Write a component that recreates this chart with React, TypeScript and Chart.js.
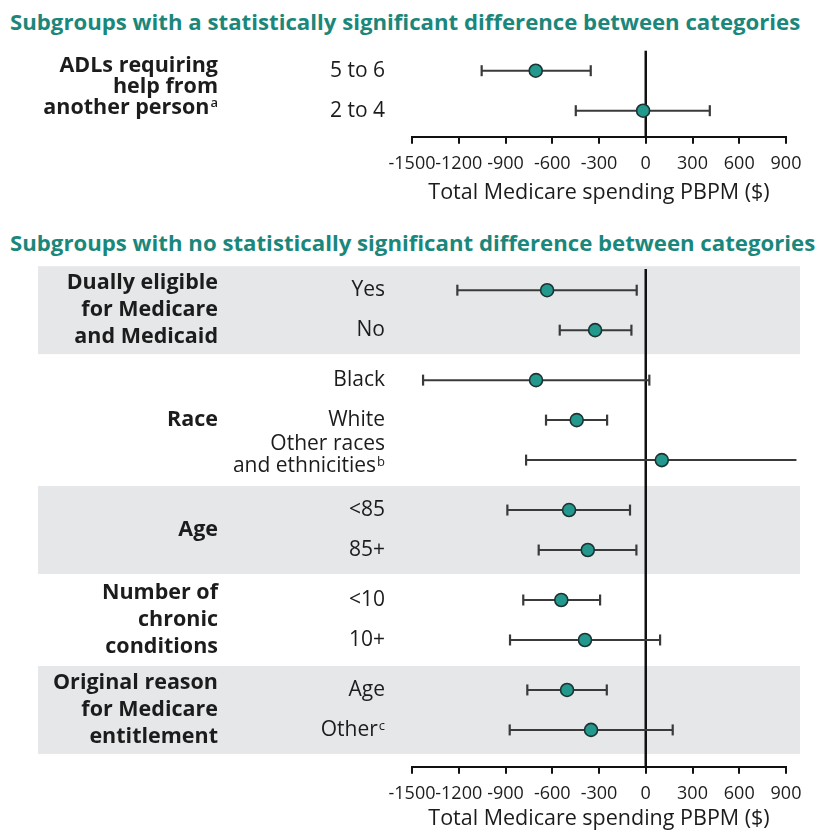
import React, { useEffect, useRef } from "react";
import { Chart, registerables } from "chart.js";

Chart.register(...registerables);

// ---------- data ----------
const xTickMin = -1500;
const xTickMax = 900;
const xTickStep = 300;
const axisTitle = "Total Medicare spending PBPM ($)";

const sigTitle = "Subgroups with a statistically significant difference between categories";
const sigGroups = [["ADLs requiring", "help from", "another person"]];
const sigGroupSup = ["a"];
const sigShaded = [false];
const sigCategories = [["5 to 6"], ["2 to 4"]];
const sigCategorySup = ["", ""];
const sigCategoryGroup = [0, 0];
const sigEstimate = [-706, -17];
const sigLower = [-1053, -449];
const sigUpper = [-353, 411];

const nsTitle = "Subgroups with no statistically significant difference between categories";
const nsGroups = [
  ["Dually eligible", "for Medicare", "and Medicaid"],
  ["Race"],
  ["Age"],
  ["Number of", "chronic", "conditions"],
  ["Original reason", "for Medicare", "entitlement"],
];
const nsGroupSup = ["", "", "", "", ""];
const nsShaded = [true, false, true, false, true];
const nsCategories = [
  ["Yes"], ["No"],
  ["Black"], ["White"], ["Other races", "and ethnicities"],
  ["<85"], ["85+"],
  ["<10"], ["10+"],
  ["Age"], ["Other"],
];
const nsCategorySup = ["", "", "", "", "b", "", "", "", "", "", "c"];
const nsCategoryGroup = [0, 0, 1, 1, 1, 2, 2, 3, 3, 4, 4];
const nsEstimate = [-633, -325, -704, -443, 103, -492, -372, -542, -390, -505, -351];
const nsLower = [-1209, -552, -1429, -640, -768, -888, -687, -786, -871, -760, -873];
const nsUpper = [-58, -92, 23, -248, 967, -101, -60, -293, 92, -250, 173];

// ---------- style ----------
const FONT = "'Open Sans', 'Noto Sans', 'DejaVu Sans', sans-serif";
const TEAL_TEXT = "#1b877b";
const MARK_FILL = "#23998d";
const MARK_EDGE = "#1d3232";
const WHISKER = "#3a3a3a";
const BAND = "#e6e7e9";
const TEXT = "#1c1c1c";
const GROUP_GAP = 0.25;
const BAND_PAD = 0.6;

type Panel = {
  groups: string[][];
  groupSup: string[];
  shaded: boolean[];
  cats: string[][];
  catSup: string[];
  catGroup: number[];
  est: number[];
  lo: number[];
  hi: number[];
  yMin: number;
  yMax: number;
  groupLineH: number;
  groupShift: number;
  padTop: number;
  axisH: number;
  titlePadBottom: number;
  height: number;
};

function rowPositions(groupIdx: number[]) {
  return groupIdx.map((g, i) => i + GROUP_GAP * g);
}

function drawWithSup(
  ctx: CanvasRenderingContext2D,
  text: string,
  sup: string,
  xRight: number,
  yMid: number,
  font: string,
  supFont: string
) {
  ctx.save();
  ctx.fillStyle = TEXT;
  ctx.textBaseline = "middle";
  let sw = 0;
  if (sup) {
    ctx.font = supFont;
    sw = ctx.measureText(sup).width + 1;
  }
  ctx.font = font;
  ctx.textAlign = "right";
  ctx.fillText(text, xRight - sw, yMid);
  if (sup) {
    ctx.font = supFont;
    ctx.textAlign = "left";
    ctx.fillText(sup, xRight - sw + 1, yMid - 4);
  }
  ctx.restore();
}

const forestPlugin = {
  id: "forestDecor",
  beforeDatasetsDraw(chart: any, _args: any, opts: any) {
    const p: Panel = opts.panel;
    const { ctx, chartArea } = chart;
    const x = chart.scales.x;
    const y = chart.scales.y;
    const pos = rowPositions(p.catGroup);
    ctx.save();
    p.groups.forEach((_g, gi) => {
      if (!p.shaded[gi]) return;
      const rows = pos.filter((_v, i) => p.catGroup[i] === gi);
      const top = y.getPixelForValue(Math.min(...rows) - BAND_PAD);
      const bot = y.getPixelForValue(Math.max(...rows) + BAND_PAD);
      ctx.fillStyle = BAND;
      ctx.fillRect(38, top, 800 - 38, bot - top);
    });
    const zx = x.getPixelForValue(0);
    ctx.strokeStyle = "#111";
    ctx.lineWidth = 2.5;
    ctx.beginPath();
    ctx.moveTo(zx, chartArea.top);
    ctx.lineTo(zx, chartArea.bottom);
    ctx.stroke();
    ctx.restore();
  },
  afterDraw(chart: any, _args: any, opts: any) {
    const p: Panel = opts.panel;
    const { ctx, chartArea } = chart;
    const y = chart.scales.y;
    const pos = rowPositions(p.catGroup);
    const catRight = chartArea.left - 27;
    const catFont = `400 21px ${FONT}`;
    const catSupFont = `400 13px ${FONT}`;
    p.cats.forEach((lines, i) => {
      const cy = y.getPixelForValue(pos[i]);
      const lh = 22;
      const shift = lines.length > 1 ? -5 : 0;
      lines.forEach((ln, k) => {
        const ly = cy + shift + (k - (lines.length - 1) / 2) * lh;
        const isLast = k === lines.length - 1;
        drawWithSup(ctx, ln, isLast ? p.catSup[i] : "", catRight, ly, catFont, catSupFont);
      });
    });
    const grpFont = `700 21.5px ${FONT}`;
    const grpSupFont = `600 13px ${FONT}`;
    p.groups.forEach((lines, gi) => {
      const rows = pos.filter((_v, i) => p.catGroup[i] === gi);
      const gy = y.getPixelForValue((Math.min(...rows) + Math.max(...rows)) / 2) + p.groupShift;
      lines.forEach((ln, k) => {
        const ly = gy + (k - (lines.length - 1) / 2) * p.groupLineH;
        const isLast = k === lines.length - 1;
        drawWithSup(ctx, ln, isLast ? p.groupSup[gi] : "", 218, ly, grpFont, grpSupFont);
      });
    });
  },
};

function ForestPanel({ panel }: { panel: Panel }) {
  const ref = useRef<HTMLCanvasElement | null>(null);
  useEffect(() => {
    if (!ref.current) return;
    const pos = rowPositions(panel.catGroup);
    const datasets: any[] = [];
    panel.lo.forEach((l, i) => {
      datasets.push({
        type: "scatter",
        showLine: true,
        data: [
          { x: l, y: pos[i] },
          { x: panel.hi[i], y: pos[i] },
        ],
        borderColor: WHISKER,
        borderWidth: 2,
        pointStyle: "line",
        rotation: 90,
        pointRadius: 5.5,
        pointHoverRadius: 5.5,
        pointBorderWidth: 2.2,
        pointBorderColor: WHISKER,
        clip: false,
        order: 2,
      });
    });
    datasets.push({
      type: "scatter",
      data: panel.est.map((v, i) => ({ x: v, y: pos[i] })),
      backgroundColor: MARK_FILL,
      borderColor: MARK_EDGE,
      borderWidth: 1.6,
      pointRadius: 6.5,
      pointHoverRadius: 6.5,
      clip: false,
      order: 1,
    });
    const chart = new Chart(ref.current, {
      type: "scatter",
      data: { datasets },
      plugins: [forestPlugin as any],
      options: {
        animation: false,
        responsive: false,
        events: [],
        layout: { padding: { left: 412, right: 31, top: panel.padTop, bottom: 0 } },
        plugins: {
          legend: { display: false },
          tooltip: { enabled: false },
          forestDecor: { panel },
        } as any,
        scales: {
          y: {
            type: "linear",
            display: false,
            reverse: true,
            min: panel.yMin,
            max: panel.yMax,
          },
          x: {
            type: "linear",
            min: xTickMin,
            max: xTickMax,
            afterFit: (axis: any) => {
              axis.height = panel.axisH;
            },
            ticks: {
              stepSize: xTickStep,
              autoSkip: false,
              maxRotation: 0,
              minRotation: 0,
              padding: 9,
              color: TEXT,
              font: { family: FONT, size: 18 },
              callback: (v: any) => String(v),
            },
            grid: {
              drawOnChartArea: false,
              drawTicks: true,
              tickLength: 7,
              color: "#111",
              lineWidth: 2,
            },
            border: { display: true, color: "#111", width: 2 },
            title: {
              display: true,
              text: axisTitle,
              color: TEXT,
              font: { family: FONT, size: 21.5 },
              padding: { top: 0, bottom: panel.titlePadBottom },
            },
          },
        },
      } as any,
    });
    return () => chart.destroy();
  }, [panel]);
  return <canvas ref={ref} width={817} height={panel.height} style={{ display: "block" }} />;
}

const sigPanel: Panel = {
  groups: sigGroups,
  groupSup: sigGroupSup,
  shaded: sigShaded,
  cats: sigCategories,
  catSup: sigCategorySup,
  catGroup: sigCategoryGroup,
  est: sigEstimate,
  lo: sigLower,
  hi: sigUpper,
  yMin: -0.5,
  yMax: 1.65,
  groupLineH: 21,
  groupShift: -4,
  padTop: 14.7,
  axisH: 71.3,
  titlePadBottom: 2,
  height: 172,
};

const nsPanel: Panel = {
  groups: nsGroups,
  groupSup: nsGroupSup,
  shaded: nsShaded,
  cats: nsCategories,
  catSup: nsCategorySup,
  catGroup: nsCategoryGroup,
  est: nsEstimate,
  lo: nsLower,
  hi: nsUpper,
  yMin: -0.53,
  yMax: 11.92,
  groupLineH: 27,
  groupShift: 0,
  padTop: 14,
  axisH: 69.3,
  titlePadBottom: 4,
  height: 581,
};

const titleStyle: React.CSSProperties = {
  position: "absolute",
  left: 10,
  fontFamily: FONT,
  fontWeight: 700,
  fontSize: 22.2,
  color: TEAL_TEXT,
  whiteSpace: "nowrap",
  lineHeight: "26px",
};

export default function App() {
  return (
    <div
      style={{
        position: "absolute",
        left: 0,
        top: 0,
        width: 817,
        height: 836,
        overflow: "hidden",
        background: "#fff",
      }}
    >
      <div style={{ ...titleStyle, top: 9 }}>{sigTitle}</div>
      <div style={{ position: "absolute", left: 0, top: 36 }}>
        <ForestPanel panel={sigPanel} />
      </div>
      <div style={{ ...titleStyle, top: 230 }}>{nsTitle}</div>
      <div style={{ position: "absolute", left: 0, top: 255 }}>
        <ForestPanel panel={nsPanel} />
      </div>
    </div>
  );
}
